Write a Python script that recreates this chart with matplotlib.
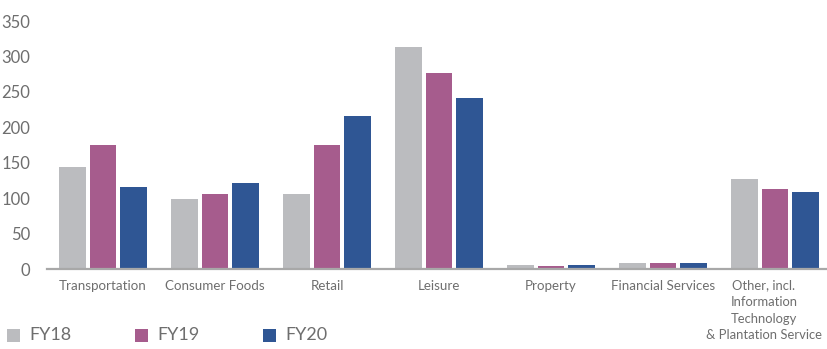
import matplotlib
matplotlib.use("Agg")
import matplotlib.pyplot as plt
from matplotlib.patches import Rectangle
from matplotlib.transforms import blended_transform_factory, offset_copy
import numpy as np

plt.rcParams['font.family'] = ['Lato', 'DejaVu Sans']

categories = ["Transportation", "Consumer Foods", "Retail", "Leisure", "Property",
              "Financial Services",
              "Other, incl.\nInformation\nTechnology\n& Plantation Service"]
series_names = ["FY18", "FY19", "FY20"]
fy18 = [144, 99, 106, 313, 6, 8.5, 127]
fy19 = [175, 106, 175, 277, 4, 8.5, 113]
fy20 = [116, 121, 216, 241, 6, 8.5, 109]
yticks = [0, 50, 100, 150, 200, 250, 300, 350]

colors = ["#BBBCBF", "#A65C8D", "#2F5694"]
text_color = "#6E6E6E"

W, H = 827, 349
fig = plt.figure(figsize=(W / 100, H / 100), dpi=100)
ax = fig.add_axes([47 / W, (H - 269) / H, 784 / W, 248 / H])

x = np.arange(len(categories))
bw = 0.241
step = 0.268
bars = []
for i, (vals, c) in enumerate(zip([fy18, fy19, fy20], colors)):
    bars.append(ax.bar(x + (i - 1) * step, vals, width=bw, color=c, linewidth=0))

ax.set_xlim(-0.5, len(categories) - 0.5)
ax.set_ylim(0, 350)
ax.set_yticks(yticks)
ax.set_yticklabels([str(v) for v in yticks], fontsize=12, color=text_color)
ax.set_xticks(x)
# the wrapped last category is drawn separately, nudged left to stay on the canvas
ax.set_xticklabels(categories[:-1] + [""], fontsize=9.6, color=text_color,
                   va="top")
ax.tick_params(axis="both", length=0)
ax.tick_params(axis="y", pad=12)
ax.tick_params(axis="x", pad=8)
trans = offset_copy(blended_transform_factory(ax.transData, ax.transAxes),
                    fig=fig, x=-11, y=-10.5, units="dots")
ax.text(x[-1], 0, categories[-1], transform=trans, ha="center", va="top",
        fontsize=9.4, color=text_color, linespacing=1.46,
        multialignment="center")

for s in ["top", "right", "left"]:
    ax.spines[s].set_visible(False)
ax.spines["bottom"].set_color("#A8A8A8")
ax.spines["bottom"].set_linewidth(1.6)

# legend row along the bottom edge
for i, (name, c) in enumerate(zip(series_names, colors)):
    x0 = 7 + i * 128
    fig.add_artist(Rectangle((x0 / W, (H - 342) / H), 13 / W, 13 / H,
                             transform=fig.transFigure, color=c, linewidth=0))
    fig.text((x0 + 22) / W, (H - 335.5) / H, name, fontsize=13,
             color=text_color, va="center", ha="left")

fig.savefig("out.png", dpi=100)
